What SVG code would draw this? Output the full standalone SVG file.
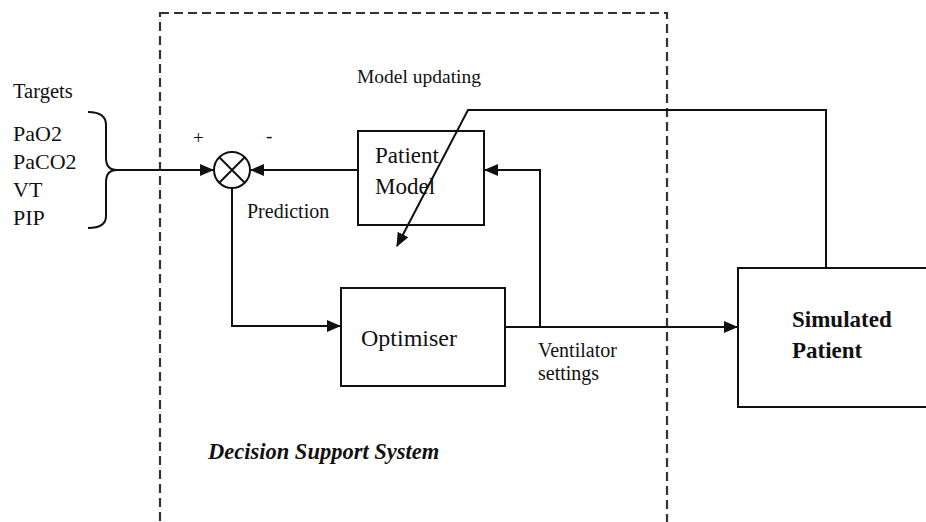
<svg xmlns="http://www.w3.org/2000/svg" width="926" height="522" viewBox="0 0 926 522">
<style>
.t{font-family:"Liberation Serif",serif;fill:#111}
.ln{fill:none;stroke:#111;stroke-width:2}
.box{fill:#fff;stroke:#111;stroke-width:2}
</style>
<defs>
<marker id="ah" markerWidth="14" markerHeight="12" refX="13" refY="6" orient="auto" markerUnits="userSpaceOnUse">
<path d="M0,0 L14,6 L0,12 Z" fill="#111"/>
</marker>
</defs>
<rect width="926" height="522" fill="#fff"/>
<g id="dss">
<rect x="160" y="13" width="507" height="510" fill="none" stroke="#333" stroke-width="2.2" stroke-dasharray="9,5"/>
<text class="t" x="208" y="459" font-size="22.5" font-weight="bold" font-style="italic">Decision Support System</text>
</g>
<g id="targets">
<text class="t" x="13" y="98" font-size="20.5">Targets</text>
<text class="t" x="13" y="141" font-size="22">PaO2</text>
<text class="t" x="13" y="169" font-size="22">PaCO2</text>
<text class="t" x="13" y="197" font-size="22">VT</text>
<text class="t" x="13" y="225" font-size="22">PIP</text>
<path class="ln" stroke-width="1.6" d="M88,112 Q106,112 106,125 L106,158 Q106,170 117,170 Q106,170 106,182 L106,216 Q106,228 88,228"/>
</g>
<g id="sum">
<circle cx="232" cy="170" r="18" fill="#fff" stroke="#111" stroke-width="2"/>
<path class="ln" stroke-width="1.6" d="M219.3,157.3 L244.7,182.7 M244.7,157.3 L219.3,182.7"/>
<text class="t" x="193" y="144" font-size="19">+</text>
<text class="t" x="266" y="142" font-size="19">-</text>
</g>
<g id="patient-model">
<rect class="box" x="358" y="131" width="126" height="94"/>
<text class="t" x="375" y="163" font-size="23">Patient</text>
<text class="t" x="375" y="194" font-size="23">Model</text>
</g>
<g id="optimiser">
<rect class="box" x="341" y="288" width="164" height="98"/>
<text class="t" x="361" y="346" font-size="24">Optimiser</text>
</g>
<g id="simulated-patient">
<rect class="box" x="738" y="268" width="200" height="139"/>
<text class="t" x="792" y="327" font-size="23" font-weight="bold">Simulated</text>
<text class="t" x="792" y="358" font-size="23" font-weight="bold">Patient</text>
</g>
<g id="connectors">
<path class="ln" d="M117,170 L213,170" marker-end="url(#ah)"/>
<path class="ln" d="M358,170 L251,170" marker-end="url(#ah)"/>
<path class="ln" d="M232,188 L232,326 L340,326" marker-end="url(#ah)"/>
<path class="ln" d="M505,327 L737,327" marker-end="url(#ah)"/>
<path class="ln" d="M540,327 L540,170 L485,170" marker-end="url(#ah)"/>
<path class="ln" d="M826,268 L826,110 L468,110 L397,246" marker-end="url(#ah)"/>
<text class="t" x="247" y="218" font-size="20">Prediction</text>
<text class="t" x="357" y="83" font-size="19.5">Model updating</text>
<text class="t" x="538" y="357" font-size="20">Ventilator</text>
<text class="t" x="538" y="380" font-size="20">settings</text>
</g>
</svg>
